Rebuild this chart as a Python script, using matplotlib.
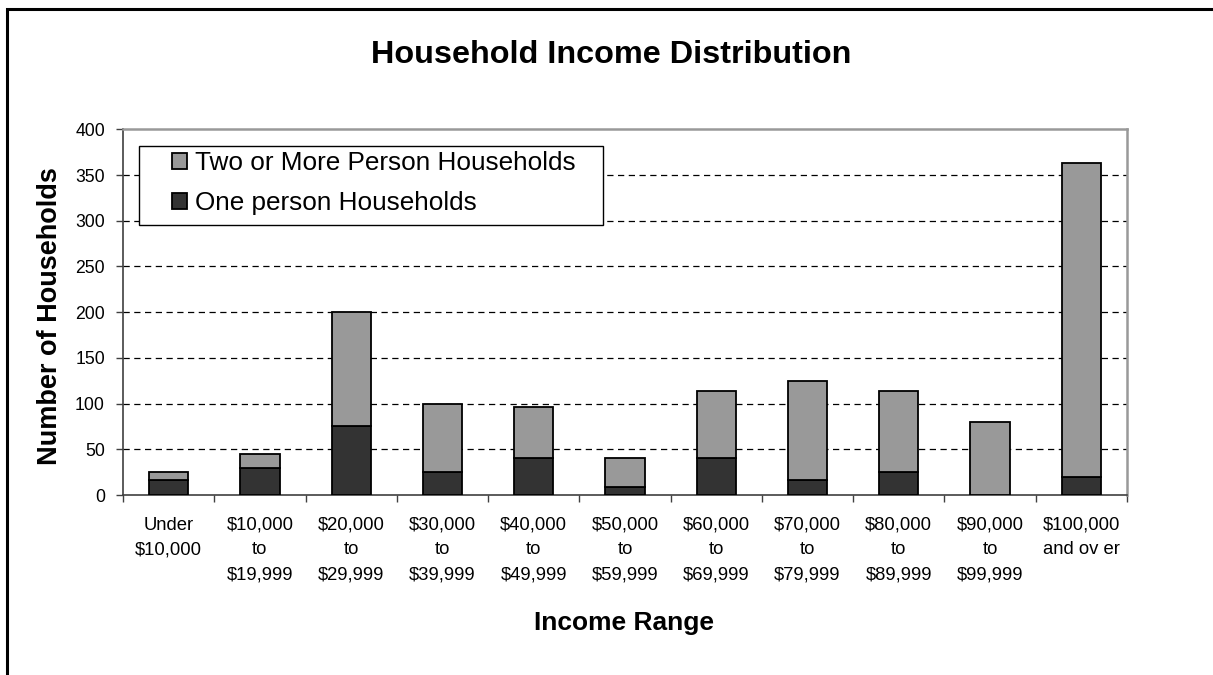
import matplotlib
matplotlib.use("Agg")
import matplotlib.pyplot as plt
from matplotlib.patches import Rectangle
import numpy as np

categories = ["Under\n$10,000", "$10,000\nto\n$19,999", "$20,000\nto\n$29,999",
              "$30,000\nto\n$39,999", "$40,000\nto\n$49,999", "$50,000\nto\n$59,999",
              "$60,000\nto\n$69,999", "$70,000\nto\n$79,999", "$80,000\nto\n$89,999",
              "$90,000\nto\n$99,999", "$100,000\nand ov er"]
one_person = [16, 29, 76, 25, 40, 9, 40, 16, 25, 0, 20]
totals = [25, 45, 200, 100, 96, 40, 114, 125, 114, 80, 363]
two_plus = [t - o for t, o in zip(totals, one_person)]
yticks = [0, 50, 100, 150, 200, 250, 300, 350, 400]

plt.rcParams['font.family'] = ['Liberation Sans', 'DejaVu Sans']

W, H = 1213, 675
fig = plt.figure(figsize=(W / 100, H / 100), dpi=100)
ax = fig.add_axes([123 / W, 1 - 495 / H, (1127 - 123) / W, (495 - 129.3) / H])

x = np.arange(len(categories))
bw = 0.43
ax.bar(x, one_person, bw, color="#333333", edgecolor="black", linewidth=1.3,
       label="One person Households", zorder=3)
ax.bar(x, two_plus, bw, bottom=one_person, color="#999999", edgecolor="black",
       linewidth=1.3, label="Two or More Person Households", zorder=3)

ax.set_xlim(-0.5, len(categories) - 0.5)
ax.set_ylim(0, 400)
ax.set_yticks(yticks)
ax.set_yticklabels([str(v) for v in yticks], fontsize=12.7)
for v in yticks[1:-1]:
    ax.axhline(v, color="black", linewidth=0.9, linestyle=(0, (5, 3.6)), zorder=1)

ax.set_xticks(x)
ax.set_xticklabels(categories, fontsize=13.3, va="top")
for lbl in ax.get_xticklabels():
    lbl.set_linespacing(1.6)
ax.set_xticks(np.arange(-0.5, len(categories), 1.0), minor=True)
ax.tick_params(axis="x", which="major", length=0, pad=15.5)
ax.tick_params(axis="x", which="minor", length=5, width=1, color="#404040", direction="out")
ax.tick_params(axis="y", length=5, width=1, color="#404040", pad=8, direction="out")

for s in ["left", "bottom"]:
    ax.spines[s].set_color("#404040")
    ax.spines[s].set_linewidth(1.2)
for s in ["top", "right"]:
    ax.spines[s].set_color("#999999")
    ax.spines[s].set_linewidth(1.8)

fig.text(56.7 / W, 1 - 316 / H, "Number of Households", fontsize=19.5, fontweight="bold",
         rotation=90, rotation_mode="anchor", ha="center", va="baseline")
fig.text(624.5 / W, 1 - 630 / H, "Income Range", fontsize=19, fontweight="bold",
         ha="center", va="baseline")
fig.text(611 / W, 1 - 63 / H, "Household Income Distribution", fontsize=23.3,
         fontweight="bold", ha="center", va="baseline")

# legend frame
ax.add_patch(Rectangle((0.01624, 0.7375), 0.4778 - 0.01624, 0.9552 - 0.7375,
                       transform=ax.transAxes, facecolor="white", edgecolor="black",
                       linewidth=1.0, zorder=4))
handles, labels = ax.get_legend_handles_labels()
leg = ax.legend(handles[::-1], labels[::-1], loc="center left",
                bbox_to_anchor=((172 - 123) / 1004, (495 - 183) / 365.7), borderaxespad=0,
                fontsize=18.8, frameon=False, handlelength=0.58, handleheight=0.58,
                handletextpad=0.3, labelspacing=0.62, borderpad=0)
leg.set_zorder(5)

fig.patches.append(Rectangle((7 / W, -0.2), 1.5, 1.2 - 9 / H, transform=fig.transFigure,
                             fill=False, edgecolor="black", linewidth=2.2))

fig.savefig("out.png", dpi=100)
